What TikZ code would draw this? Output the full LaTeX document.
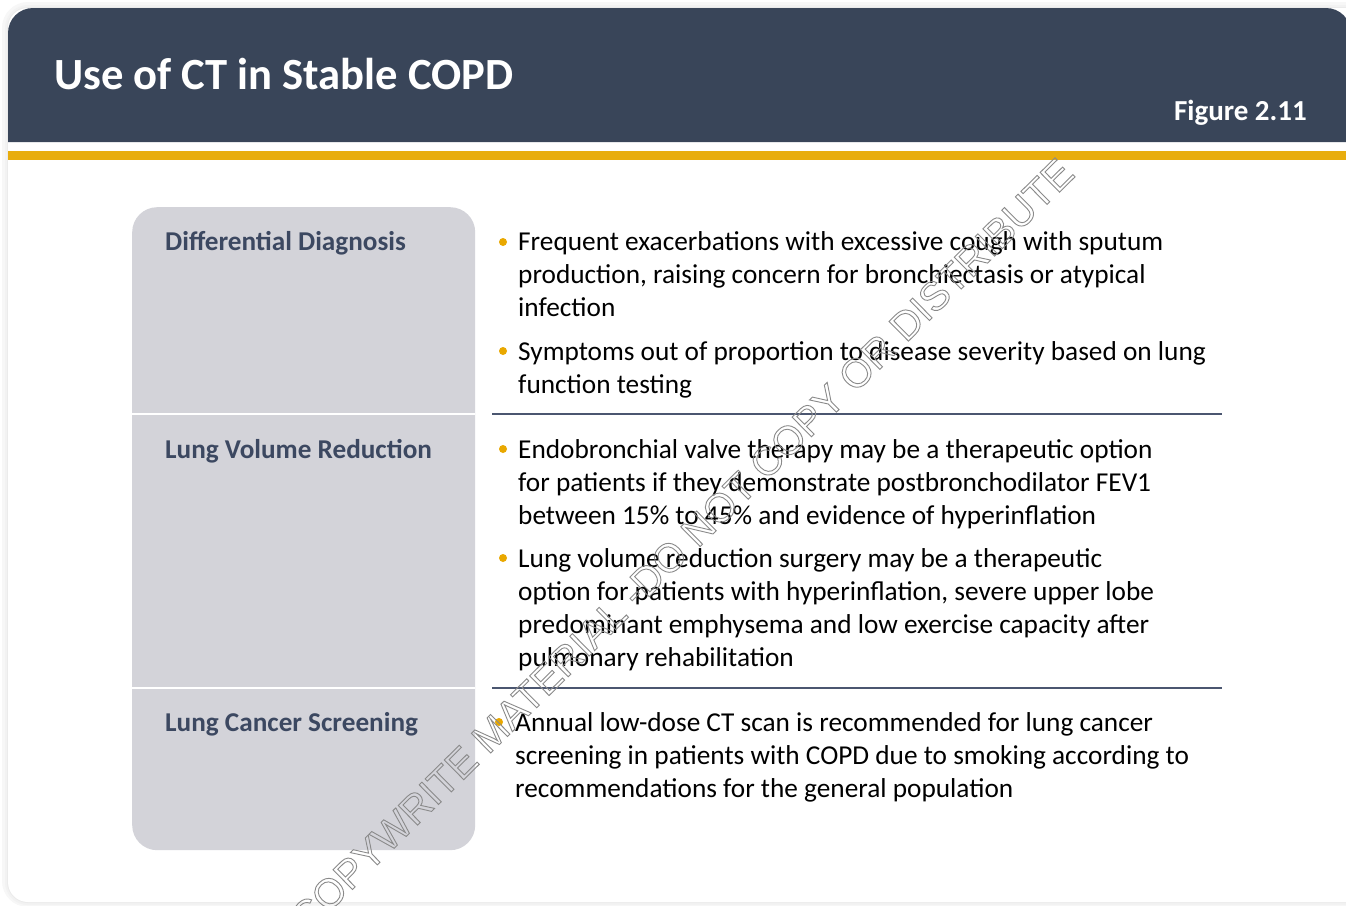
\documentclass[tikz,border=0pt]{standalone}
\usepackage{fontspec}
\setmainfont{Carlito}
\newfontfamily\wmfont{Liberation Sans}
\definecolor{navy}{HTML}{394559}
\definecolor{gold}{HTML}{E8AD0E}
\definecolor{boxgray}{HTML}{D3D3D9}
\definecolor{labelc}{HTML}{3C4861}
\definecolor{rulec}{HTML}{4B5670}
\definecolor{dotc}{HTML}{E9A800}
\definecolor{wmgray}{HTML}{8A8A8A}
\tikzset{
  labeltext/.style={anchor=base west, inner sep=0pt, text=labelc, font=\fontsize{27.2}{33}\selectfont\bfseries},
  bodytext/.style={anchor=base west, inner sep=0pt, text=black, font=\fontsize{27.3}{33}\selectfont},
  dotnode/.style={circle, fill=dotc, draw=none, minimum size=8pt, inner sep=0pt},
  rowrule/.style={draw=rulec, line width=2pt},
  seprule/.style={draw=white, line width=1.6pt}
}
\begin{document}
\begin{tikzpicture}[x=1pt,y=-1pt]
\useasboundingbox (0,0) rectangle (1346,905);
\clip (0,0) rectangle (1346,905);
\fill[white] (0,0) rectangle (1346,905);
% card shadow
\fill[black!3, rounded corners=26] (2,2) rectangle (1380,907);
\fill[black!5, rounded corners=23] (5,5) rectangle (1380,905);
\fill[black!8, rounded corners=21] (7,7) rectangle (1380,903);
% card
\fill[white, rounded corners=20] (8,8) rectangle (1380,902);
% header
\fill[navy] (8,142) [rounded corners=25] -- (8,8) -- (1351,8) [sharp corners] -- (1351,142) -- cycle;
\fill[gold] (8,151) rectangle (1346,160);
\node[anchor=base west, inner sep=0pt, text=white, font=\fontsize{44.6}{50}\selectfont\bfseries] (title) at (54,89) {Use of CT in Stable COPD};
\node[anchor=base east, inner sep=0pt, text=white, font=\fontsize{29}{34}\selectfont\bfseries] (fig) at (1307,120) {Figure 2.11};
% left box
\node[fill=boxgray, draw=none, rounded corners=25pt, minimum width=343pt, minimum height=643pt, anchor=north west, inner sep=0pt] (box) at (132,207) {};
\draw[seprule] (box.west |- 0,414) coordinate (s1a) -- (box.east |- 0,414) coordinate (s1b);
\draw[seprule] (box.west |- 0,688) coordinate (s2a) -- (box.east |- 0,688) coordinate (s2b);
% right rules
\coordinate (r1a) at (492,414); \coordinate (r1b) at (1222,414);
\coordinate (r2a) at (492,688); \coordinate (r2b) at (1222,688);
\draw[rowrule] (r1a) -- (r1b);
\draw[rowrule] (r2a) -- (r2b);
% labels
\node[labeltext] (lab1) at (165,250) {Differential Diagnosis};
\node[labeltext] (lab2) at (165,458) {Lung Volume Reduction};
\node[labeltext] (lab3) at (165,731) {Lung Cancer Screening};
% bullets
\node[dotnode] (d1) at (503,242) {};
\node[dotnode] (d2) at (503,351) {};
\node[dotnode] (d3) at (503,449) {};
\node[dotnode] (d4) at (503,558) {};
\node[dotnode] (d5) at (499,722) {};
\node[bodytext] (t1) at (518,250) {\parbox[t]{760pt}{Frequent exacerbations with excessive cough with sputum\\production, raising concern for bronchiectasis or atypical\\infection}};
\node[bodytext] (t2) at (518,360) {\parbox[t]{760pt}{Symptoms out of proportion to disease severity based on lung\\function testing}};
\node[bodytext] (t3) at (518,458) {\parbox[t]{760pt}{Endobronchial valve therapy may be a therapeutic option\\for patients if they demonstrate postbronchodilator FEV1\\between 15\% to 45\% and evidence of hyperinflation}};
\node[bodytext] (t4) at (518,567.5) {\parbox[t]{760pt}{Lung volume reduction surgery may be a therapeutic\\option for patients with hyperinflation, severe upper lobe\\predominant emphysema and low exercise capacity after\\pulmonary rehabilitation}};
\node[bodytext] (t5) at (515,731.5) {\parbox[t]{760pt}{Annual low-dose CT scan is recommended for lung cancer\\screening in patients with COPD due to smoking according to\\recommendations for the general population}};
% watermark
\node[rotate=44.6, inner sep=0pt, text=wmgray, font=\wmfont\fontsize{40.2}{45}\selectfont] (wm) at (682,545) {\special{pdf:literal direct 1 Tr 0.9 w}COPYWRITE MATERIAL -DO NOT COPY OR DISTRIBUTE\special{pdf:literal direct 0 Tr}};
\end{tikzpicture}
\end{document}
